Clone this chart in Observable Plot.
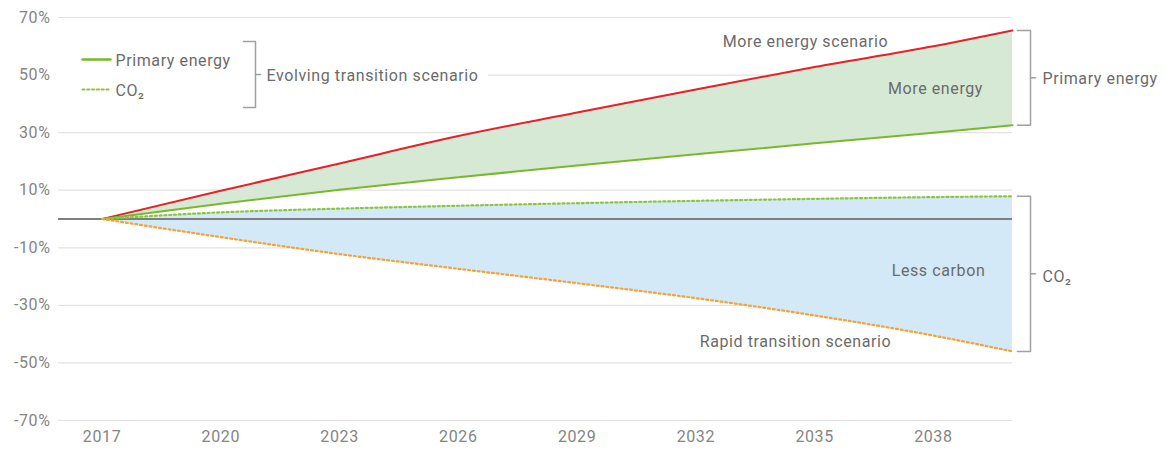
<!DOCTYPE html>
<html><head><meta charset="utf-8">
<script src="https://cdn.jsdelivr.net/npm/d3@7"></script>
<script src="https://cdn.jsdelivr.net/npm/@observablehq/plot@0.6"></script>
<style>body{margin:0;background:#fff;} #chart svg{display:block;} #chart svg text{letter-spacing:0.6px;}</style>
</head><body><div id="chart"></div>
<script>
// ---- data (percent change vs 2017) ----
const years = [2017, 2020, 2023, 2026, 2029, 2032, 2035, 2038, 2040];
const moreEnergy = [0, 9.8, 19.3, 28.8, 37, 45, 52.8, 60, 65.5];        // More energy scenario (primary energy)
const primaryEnergy = [0, 5.3, 10.2, 14.5, 18.6, 22.5, 26.3, 30, 32.6];  // Evolving transition, primary energy
const co2Evolving = [0, 2.3, 3.6, 4.6, 5.5, 6.3, 7.0, 7.6, 7.9];         // Evolving transition, CO2
const co2Rapid = [0, -6.3, -12.2, -17.3, -22.3, -27.5, -33.5, -40.5, -46]; // Rapid transition scenario, CO2
const xTicks = [2017, 2020, 2023, 2026, 2029, 2032, 2035, 2038];
const yTicks = [-70, -50, -30, -10, 10, 30, 50, 70];

const table = years.map((year, i) => ({year, more: moreEnergy[i], primary: primaryEnergy[i], co2: co2Evolving[i], rapid: co2Rapid[i]}));

const W = 1166, H = 450, mL = 58, mR = 154, mT = 17, mB = 30;
const xDomain = [2015.9, 2040], yDomain = [-70, 70];
const pxPerYear = (W - mL - mR) / (xDomain[1] - xDomain[0]);
const pxPerPct = (H - mT - mB) / (yDomain[1] - yDomain[0]);
const px = p => xDomain[0] + (p - mL) / pxPerYear;   // annotation helper: pixel -> year
const py = p => yDomain[1] - (p - mT) / pxPerPct;    // annotation helper: pixel -> percent

const txt = "#6b6b6b", tick = "#858585", brk = "#a0a0a0", font = 16;
const curve = "monotone-x";
const dots = "2 2.8";

const bracketR = (top, bottom) => {
  const xl = px(1017), xr = px(1030), xt = px(1035), mid = (top + bottom) / 2;
  return [
    Plot.line([[xl, top], [xr, top], [xr, bottom], [xl, bottom]], {stroke: brk, strokeWidth: 1.5}),
    Plot.line([[xr, mid], [xt, mid]], {stroke: brk, strokeWidth: 1.5})
  ];
};

const chart = Plot.plot({
  width: W, height: H,
  marginLeft: mL, marginRight: mR, marginTop: mT, marginBottom: mB,
  style: {fontFamily: "Roboto, 'Liberation Sans', sans-serif", background: "#fff"},
  x: {domain: xDomain},
  y: {domain: yDomain},
  marks: [
    Plot.ruleY(yTicks.filter(d => d !== 50), {stroke: "#e2e2e2", strokeWidth: 1.2}),
    Plot.ruleY([50], {x1: px(488), x2: xDomain[1], stroke: "#e2e2e2", strokeWidth: 1.2}),
    Plot.areaY(table, {x: "year", y1: "primary", y2: "more", fill: "#d6e9d5", curve}),
    Plot.areaY(table, {x: "year", y1: "rapid", y2: "co2", fill: "#d3e9f8", curve}),
    Plot.ruleY([0], {stroke: "#7f7f7f", strokeWidth: 2}),
    Plot.line(table, {x: "year", y: "more", stroke: "#e3222a", strokeWidth: 2, curve}),
    Plot.line(table, {x: "year", y: "primary", stroke: "#79b82b", strokeWidth: 2, curve}),
    Plot.line(table, {x: "year", y: "co2", stroke: "#8cc63f", strokeWidth: 2.2, strokeDasharray: dots, curve}),
    Plot.line(table, {x: "year", y: "rapid", stroke: "#f4a23c", strokeWidth: 2.2, strokeDasharray: dots, curve}),
    Plot.axisX({ticks: xTicks, tickFormat: d => String(d), tickSize: 0, tickPadding: 10, fill: tick, fontSize: font, label: null}),
    Plot.axisY({ticks: yTicks, tickFormat: d => d + "%", tickSize: 0, tickPadding: 8, fill: tick, fontSize: font, label: null}),
    // legend
    Plot.line([[px(82), py(59)], [px(110), py(59)]], {stroke: "#79b82b", strokeWidth: 2.5}),
    Plot.line([[px(82), py(89)], [px(110), py(89)]], {stroke: "#8cc63f", strokeWidth: 2.2, strokeDasharray: dots}),
    Plot.text(["Primary energy"], {x: px(115), y: py(60), text: d => d, textAnchor: "start", fill: txt, fontSize: font}),
    Plot.text(["CO₂"], {x: px(115), y: py(90), text: d => d, textAnchor: "start", fill: txt, fontSize: font}),
    Plot.line([[px(243), py(41)], [px(255), py(41)], [px(255), py(107)], [px(243), py(107)]], {stroke: brk, strokeWidth: 1.5}),
    Plot.line([[px(255), py(74)], [px(260), py(74)]], {stroke: brk, strokeWidth: 1.5}),
    Plot.text(["Evolving transition scenario"], {x: px(266), y: py(75), text: d => d, textAnchor: "start", fill: txt, fontSize: font}),
    // annotations
    Plot.text(["More energy scenario"], {x: px(805), y: py(41), text: d => d, fill: txt, fontSize: font}),
    Plot.text(["More energy"], {x: px(935), y: py(88), text: d => d, fill: txt, fontSize: font}),
    Plot.text(["Less carbon"], {x: px(938), y: py(270), text: d => d, fill: txt, fontSize: font}),
    Plot.text(["Rapid transition scenario"], {x: px(795), y: py(341), text: d => d, fill: txt, fontSize: font}),
    ...bracketR(moreEnergy[moreEnergy.length - 1], primaryEnergy[primaryEnergy.length - 1]),
    ...bracketR(co2Evolving[co2Evolving.length - 1], co2Rapid[co2Rapid.length - 1]),
    Plot.text(["Primary energy"], {x: px(1042), y: py(78), text: d => d, textAnchor: "start", fill: txt, fontSize: font}),
    Plot.text(["CO₂"], {x: px(1042), y: py(276), text: d => d, textAnchor: "start", fill: txt, fontSize: font})
  ]
});
document.getElementById("chart").appendChild(chart);
</script>
</body></html>
